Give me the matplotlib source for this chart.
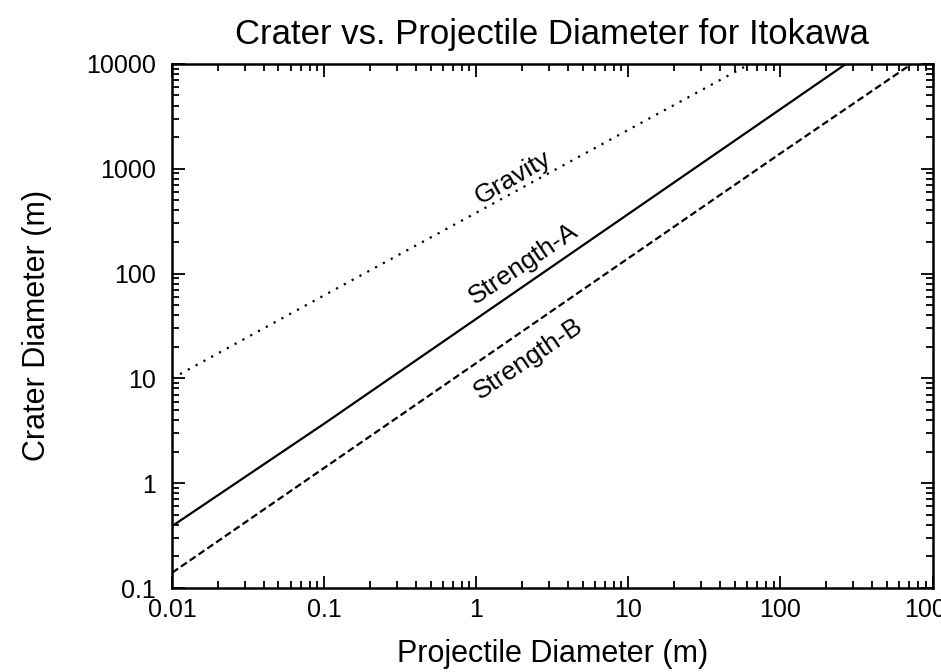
import matplotlib.pyplot as plt
from matplotlib.ticker import LogLocator, FixedLocator, FixedFormatter, NullFormatter

# ── data ──
grav_d     = [0.01, 0.1, 1, 10, 63]
grav_crat  = [10, 62, 380, 2350, 10000]
strA_d     = [0.01, 0.1, 1, 10, 100, 270]
strA_crat  = [0.39, 3.7, 37, 370, 3700, 10000]
strB_d     = [0.01, 0.1, 1, 10, 100, 730]
strB_crat  = [0.14, 1.4, 14, 140, 1400, 10000]

x_ticks  = [0.01, 0.1, 1, 10, 100, 1000]
x_labels = ['0.01', '0.1', '1', '10', '100', '1000']
y_ticks  = [0.1, 1, 10, 100, 1000, 10000]
y_labels = ['0.1', '1', '10', '100', '1000', '10000']

plt.rcParams['font.family'] = ['Liberation Sans', 'DejaVu Sans']

fig = plt.figure(figsize=(9.41, 6.72), dpi=100)
ax = fig.add_axes([0.183, 0.125, 0.808, 0.780])

ax.plot(grav_d, grav_crat, color='black', lw=1.6, linestyle=(0, (1, 3)))
ax.plot(strA_d, strA_crat, color='black', lw=1.6, linestyle='-')
ax.plot(strB_d, strB_crat, color='black', lw=1.6, linestyle=(0, (3.2, 1.6)))

ax.set_xscale('log')
ax.set_yscale('log')
ax.set_xlim(0.01, 1000)
ax.set_ylim(0.1, 10000)

ax.xaxis.set_major_locator(FixedLocator(x_ticks))
ax.xaxis.set_major_formatter(FixedFormatter(x_labels))
ax.yaxis.set_major_locator(FixedLocator(y_ticks))
ax.yaxis.set_major_formatter(FixedFormatter(y_labels))
ax.xaxis.set_minor_locator(LogLocator(base=10, subs=range(2, 10)))
ax.yaxis.set_minor_locator(LogLocator(base=10, subs=range(2, 10)))
ax.xaxis.set_minor_formatter(NullFormatter())
ax.yaxis.set_minor_formatter(NullFormatter())

ax.tick_params(which='both', direction='in', top=True, right=True, width=1.3)
ax.tick_params(which='major', length=9, labelsize=18)
ax.tick_params(axis='x', which='major', pad=7.5)
ax.tick_params(axis='y', which='major', pad=12)
ax.tick_params(which='minor', length=5)
for s in ax.spines.values():
    s.set_linewidth(1.8)

# curve labels, rotated along the lines
ax.text(1.75, 830, 'Gravity', rotation=30, fontsize=19, ha='center', va='center')
ax.text(2.04, 123, 'Strength-A', rotation=34, fontsize=19, ha='center', va='center')
ax.text(2.2, 15.5, 'Strength-B', rotation=34, fontsize=19, ha='center', va='center')

ax.set_xlabel('Projectile Diameter (m)', fontsize=22, labelpad=12)
ax.set_ylabel('Crater Diameter (m)', fontsize=22, labelpad=24)
ax.set_title('Crater vs. Projectile Diameter for Itokawa', fontsize=25, pad=14)

fig.savefig('out.png', dpi=100)
